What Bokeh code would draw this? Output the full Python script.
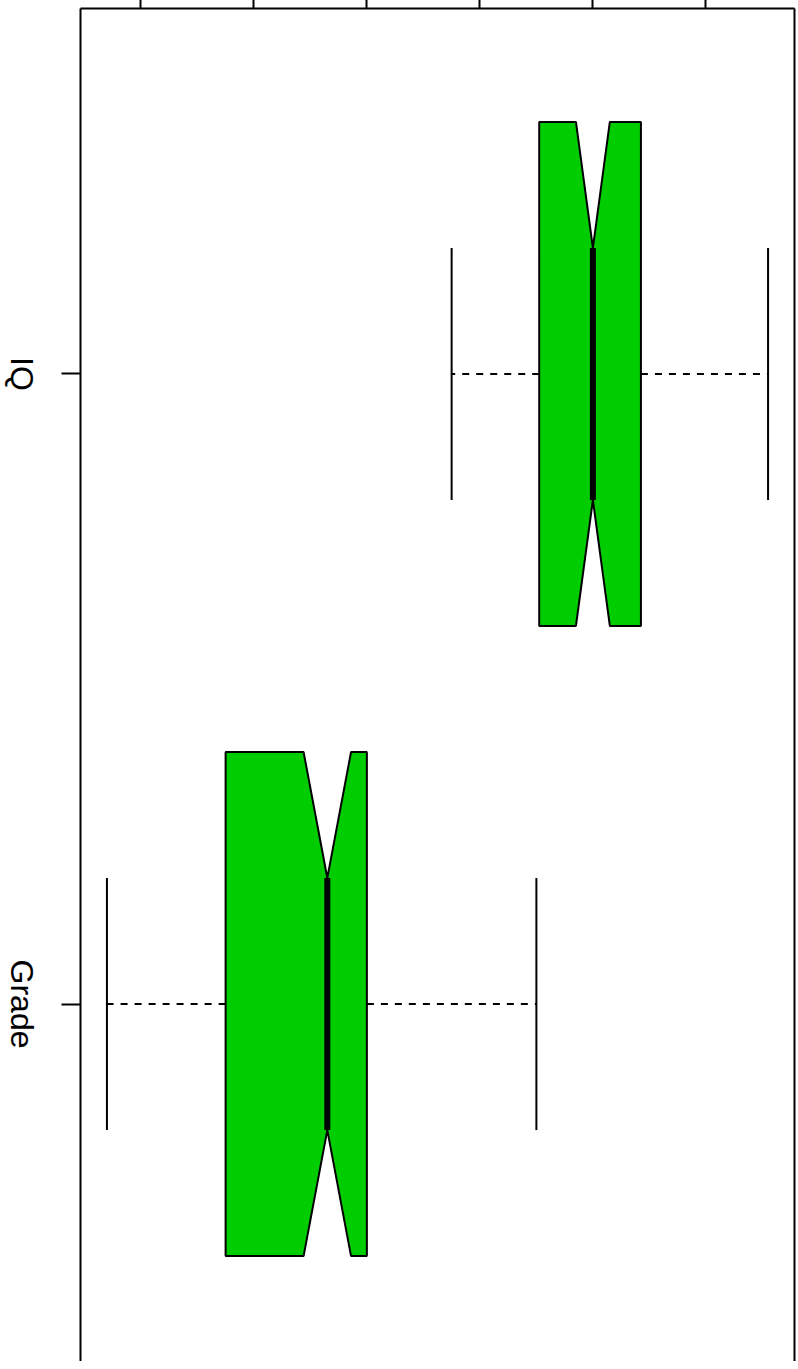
import math
from bokeh.plotting import figure
from bokeh.layouts import row
from bokeh.models import Range1d, LinearAxis, FixedTicker
from bokeh.core.properties import value
from bokeh.embed import file_html
from bokeh.resources import INLINE

# ---- data ----
groups = ["IQ", "Grade"]
positions = [1, 2]
whisker_low = [75.0, 14.0]
q1 = [90.5, 35.0]
notch_low = [97.0, 48.8]
median = [100.0, 53.0]
notch_high = [103.0, 57.2]
q3 = [108.5, 60.0]
whisker_high = [131.0, 90.0]
value_ticks = [20, 40, 60, 80, 100, 120]

# ---- style constants ----
BOX_HALF = 0.4
GREEN = "#00CD00"
FONT = "Liberation Sans"

# ---- ranges (R-style 4% expansion) ----
vmin, vmax = min(whisker_low), max(whisker_high)
pad = 0.04 * (vmax - vmin)
x_range = Range1d(vmin - pad, vmax + pad)
y_top = 0.5 - 0.04 * len(groups)
y_bot_full = len(groups) + 0.5 + 0.04 * len(groups)
FRAME_H = 1353
y_bottom = y_top + (y_bot_full - y_top) * FRAME_H / 1361
y_range = Range1d(start=y_bottom, end=y_top)

TOP = 98
LAB_W = 56
LEFT = 32

# ---- narrow panel holding the group labels ----
lab = figure(width=LAB_W, height=TOP + FRAME_H, x_range=Range1d(0, LAB_W), y_range=y_range,
             output_backend="svg", toolbar_location=None,
             x_axis_location=None, y_axis_location=None,
             min_border_left=0, min_border_right=0, min_border_top=TOP, min_border_bottom=0)
lab.outline_line_color = None
lab.xgrid.grid_line_color = None
lab.ygrid.grid_line_color = None
lab.text(x=[29.5] * len(groups), y=positions, text=groups, angle=-math.pi / 2,
         text_align="center", text_baseline="middle",
         text_font=value(FONT), text_font_size="32px", text_color="black")

# ---- main plot ----
p = figure(width=LEFT + 714 + 2, height=TOP + FRAME_H, x_range=x_range, y_range=y_range,
           output_backend="svg", toolbar_location=None, x_axis_location="above",
           min_border_left=LEFT, min_border_top=TOP, min_border_right=2,
           min_border_bottom=0)
p.outline_line_color = None
p.xgrid.grid_line_color = None
p.ygrid.grid_line_color = None
p.background_fill_color = "white"
p.border_fill_color = "white"

xa = p.xaxis[0]
xa.ticker = FixedTicker(ticks=value_ticks)
xa.major_label_overrides = {t: "" for t in value_ticks}
xa.major_tick_out = 19
xa.major_tick_in = 0
xa.minor_tick_out = 0
xa.minor_tick_in = 0
xa.axis_line_width = 2
xa.major_tick_line_width = 2

ya = p.yaxis[0]
ya.ticker = FixedTicker(ticks=positions)
ya.major_label_overrides = {pos: "" for pos in positions}
ya.major_label_standoff = 0
ya.major_tick_out = 19
ya.major_tick_in = 0
ya.minor_tick_out = 0
ya.minor_tick_in = 0
ya.axis_line_width = 2
ya.major_tick_line_width = 2

ra = LinearAxis(ticker=FixedTicker(ticks=[]), major_tick_out=0, major_tick_in=0,
                minor_tick_out=0, minor_tick_in=0, axis_line_width=2)
p.add_layout(ra, "right")

# ---- whiskers (dashed from the box outwards, solid caps) ----
p.segment(x0=q1, y0=positions, x1=whisker_low, y1=positions,
          line_color="black", line_width=2, line_dash="7 7")
p.segment(x0=q3, y0=positions, x1=whisker_high, y1=positions,
          line_color="black", line_width=2, line_dash="7 7")
cap_lo = [c - BOX_HALF / 2 for c in positions]
cap_hi = [c + BOX_HALF / 2 for c in positions]
p.segment(x0=whisker_low, y0=cap_lo, x1=whisker_low, y1=cap_hi,
          line_color="black", line_width=2)
p.segment(x0=whisker_high, y0=cap_lo, x1=whisker_high, y1=cap_hi,
          line_color="black", line_width=2)

# ---- notched boxes ----
xs, ys = [], []
for c, a, nl, m, nh, b in zip(positions, q1, notch_low, median, notch_high, q3):
    w = BOX_HALF
    xs.append([a, nl, m, nh, b, b, nh, m, nl, a])
    ys.append([c - w, c - w, c - w / 2, c - w, c - w, c + w, c + w, c + w / 2, c + w, c + w])
p.patches(xs, ys, fill_color=GREEN, line_color="black", line_width=2)

# ---- medians ----
p.segment(x0=median, y0=cap_lo, x1=median, y1=cap_hi,
          line_color="black", line_width=6, line_cap="butt")

layout = row(lab, p, spacing=0, margin=(-90, 0, 0, -8))
open("out.html", "w").write(file_html(layout, INLINE))
